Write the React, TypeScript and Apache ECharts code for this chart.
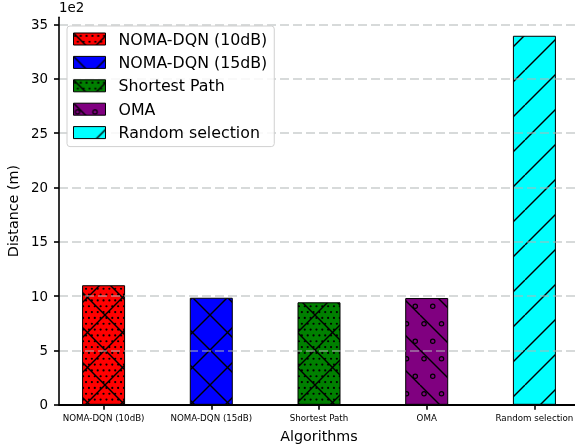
import { useEffect, useRef } from 'react';
import * as echarts from 'echarts';

const categories = ['NOMA-DQN (10dB)', 'NOMA-DQN (15dB)', 'Shortest Path', 'OMA', 'Random selection'];
const distances = [1100, 985, 943, 982, 3395];
const barColors = ['#ff0000', '#0000ff', '#008000', '#800080', '#00ffff'];
const hatches = ['x.', 'x', 'x.', '\\o', '/'];
const yTickValues = [0, 500, 1000, 1500, 2000, 2500, 3000, 3500];
const xTickValues = [0, 1, 2, 3, 4];

const FONT = 'DejaVu Sans';
const TILE = 35;

function makePattern(color: string, hatch: string) {
  const c = document.createElement('canvas');
  c.width = TILE;
  c.height = TILE;
  const ctx = c.getContext('2d')!;
  ctx.fillStyle = color;
  ctx.fillRect(0, 0, TILE, TILE);
  ctx.strokeStyle = '#000';
  ctx.fillStyle = '#000';
  ctx.lineWidth = 1.4;
  const drawLines = (dir: string) => {
    for (const o of [-TILE, 0, TILE]) {
      ctx.beginPath();
      if (dir === '\\') {
        ctx.moveTo(o, 0);
        ctx.lineTo(o + TILE, TILE);
      } else {
        ctx.moveTo(o, TILE);
        ctx.lineTo(o + TILE, 0);
      }
      ctx.stroke();
    }
  };
  if (hatch.includes('x')) {
    drawLines('/');
    drawLines('\\');
  }
  if (hatch.includes('/')) drawLines('/');
  if (hatch.includes('\\')) drawLines('\\');
  if (hatch.includes('.')) {
    const n = 6;
    const s = TILE / n;
    for (let r = 0; r < n; r++) {
      const y = r * s + s / 2;
      const off = (r % 2) * (s / 2);
      for (let k = -1; k <= n; k++) {
        const x = k * s + off + s / 4;
        ctx.beginPath();
        ctx.arc(x, y, 1.1, 0, Math.PI * 2);
        ctx.fill();
      }
    }
  }
  if (hatch.includes('o')) {
    const s = TILE / 2;
    ctx.lineWidth = 1.2;
    for (let r = 0; r < 2; r++) {
      const y = r * s + s / 2;
      const off = (r % 2) * (s / 2);
      for (let k = -1; k <= 2; k++) {
        const x = k * s + off + 4;
        ctx.beginPath();
        ctx.arc(x, y, 2.2, 0, Math.PI * 2);
        ctx.stroke();
      }
    }
  }
  return { image: c, repeat: 'repeat', imageWidth: TILE, imageHeight: TILE };
}

export default function App() {
  const ref = useRef<HTMLDivElement>(null);
  useEffect(() => {
    if (!ref.current) return;
    const chart = echarts.init(ref.current, null, { renderer: 'svg' });
    const patterns = categories.map((_, i) => makePattern(barColors[i], hatches[i]));
    const option: any = {
      animation: false,
      grid: { left: 59, top: 17.3, width: 520, height: 387.5, outerBoundsMode: 'none', containLabel: false },
      xAxis: {
        type: 'value',
        min: -0.414,
        max: 4.414,
        z: 4,
        axisLine: { show: true, onZero: false, lineStyle: { color: '#000', width: 2 } },
        axisTick: { show: true, customValues: xTickValues, length: 5, lineStyle: { color: '#000', width: 1.6 } },
        axisLabel: {
          customValues: xTickValues,
          formatter: (v: number) => categories[Math.round(v)] ?? '',
          fontSize: 8.7,
          color: '#000',
          fontFamily: FONT,
          margin: 9,
        },
        splitLine: { show: false },
        name: 'Algorithms',
        nameLocation: 'middle',
        nameGap: 24,
        nameTextStyle: { fontSize: 14.3, color: '#000', fontFamily: FONT },
      },
      yAxis: {
        type: 'value',
        min: 0,
        max: 3565,
        z: 3,
        axisLine: { show: true, onZero: false, lineStyle: { color: '#000', width: 1.6 } },
        axisTick: { show: true, customValues: yTickValues, length: 5, lineStyle: { color: '#000', width: 1.6 } },
        axisLabel: {
          customValues: yTickValues,
          formatter: (v: number) => String(v / 100),
          fontSize: 13.4,
          color: '#000',
          fontFamily: FONT,
          margin: 11,
        },
        splitLine: {
          show: true,
          customValues: yTickValues,
          lineStyle: { color: 'rgba(175,182,182,0.5)', width: 2, type: [9, 4] },
        },
        name: 'Distance (m)',
        nameLocation: 'middle',
        nameGap: 32.5,
        nameTextStyle: { fontSize: 14.3, color: '#000', fontFamily: FONT },
      },
      legend: {
        orient: 'vertical',
        left: 67,
        top: 26,
        padding: [5, 7, 6, 6],
        itemWidth: 32,
        itemHeight: 12,
        itemGap: 7.4,
        icon: 'rect',
        backgroundColor: 'rgba(255,255,255,0.85)',
        borderColor: '#d0d0d0',
        borderWidth: 1,
        borderRadius: 3,
        textStyle: { fontSize: 15.8, fontFamily: FONT, color: '#000', padding: [0, 0, 0, 8], lineHeight: 16 },
        itemStyle: { borderColor: '#000', borderWidth: 1 },
        data: categories,
      },
      graphic: [
        {
          type: 'text',
          left: 59,
          top: 1,
          style: { text: '1e2', fontSize: 13.4, fontFamily: FONT, fill: '#000' },
        },
      ],
      series: categories.map((name, i) => ({
        type: 'bar',
        name,
        stack: 'all',
        barWidth: 43,
        data: [[i, distances[i]]],
        itemStyle: { color: patterns[i], borderColor: '#000', borderWidth: 1 },
      })),
    };
    chart.setOption(option);
    return () => chart.dispose();
  }, []);
  return <div ref={ref} style={{ position: 'fixed', left: 0, top: 0, width: 575, height: 446 }} />;
}
